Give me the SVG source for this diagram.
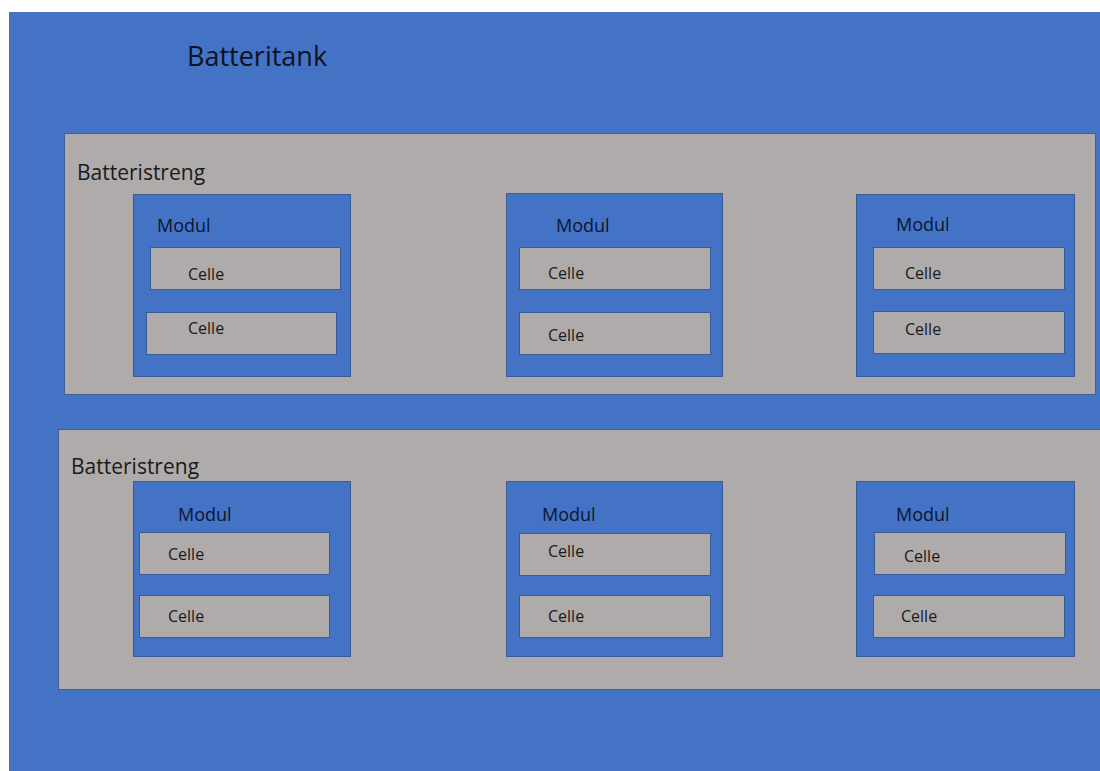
<svg xmlns="http://www.w3.org/2000/svg" width="1100" height="771" viewBox="0 0 1100 771">
<style>
.tank{fill:#4472C4;}
.str{fill:#AFABAB;stroke:#3D5F94;stroke-width:1;}
.mod{fill:#4472C4;stroke:#3A5C96;stroke-width:1;}
.cell{fill:#AFABAB;stroke:#3A5C96;stroke-width:1;}
text{font-family:"Open Sans","Liberation Sans",sans-serif;}
.t1{font-size:27px;fill:#0b1222;}
.t2{font-size:21px;fill:#1a1a1a;}
.t3{font-size:18px;fill:#0a1630;}
.t4{font-size:16px;fill:#1a1a1a;}
</style>
<rect width="1100" height="771" fill="#ffffff"/>
<g id="batteritank">
<rect class="tank" x="9" y="12" width="1091" height="759"/>
<text class="t1" x="187" y="66">Batteritank</text>
</g>
<g id="streng1">
<rect class="str" x="64.5" y="133.5" width="1031" height="261"/>
<text class="t2" x="77" y="180">Batteristreng</text>
</g>
<g id="streng2">
<rect class="str" x="58.5" y="429.5" width="1045" height="260"/>
<text class="t2" x="71" y="474">Batteristreng</text>
</g>
<g id="modul1">
<rect class="mod" x="133.5" y="194.5" width="217" height="182"/>
<text class="t3" x="157" y="232">Modul</text>
<rect class="cell" x="150.5" y="247.5" width="190" height="42"/>
<text class="t4" x="188" y="280">Celle</text>
<rect class="cell" x="146.5" y="312.5" width="190" height="42"/>
<text class="t4" x="188" y="334">Celle</text>
</g>
<g id="modul2">
<rect class="mod" x="506.5" y="193.5" width="216" height="183"/>
<text class="t3" x="556" y="232">Modul</text>
<rect class="cell" x="519.5" y="247.5" width="191" height="42"/>
<text class="t4" x="548" y="279">Celle</text>
<rect class="cell" x="519.5" y="312.5" width="191" height="42"/>
<text class="t4" x="548" y="341">Celle</text>
</g>
<g id="modul3">
<rect class="mod" x="856.5" y="194.5" width="218" height="182"/>
<text class="t3" x="896" y="231">Modul</text>
<rect class="cell" x="873.5" y="247.5" width="191" height="42"/>
<text class="t4" x="905" y="279">Celle</text>
<rect class="cell" x="873.5" y="311.5" width="191" height="42"/>
<text class="t4" x="905" y="335">Celle</text>
</g>
<g id="modul4">
<rect class="mod" x="133.5" y="481.5" width="217" height="175"/>
<text class="t3" x="178" y="521">Modul</text>
<rect class="cell" x="139.5" y="532.5" width="190" height="42"/>
<text class="t4" x="168" y="560">Celle</text>
<rect class="cell" x="139.5" y="595.5" width="190" height="42"/>
<text class="t4" x="168" y="622">Celle</text>
</g>
<g id="modul5">
<rect class="mod" x="506.5" y="481.5" width="216" height="175"/>
<text class="t3" x="542" y="521">Modul</text>
<rect class="cell" x="519.5" y="533.5" width="191" height="42"/>
<text class="t4" x="548" y="557">Celle</text>
<rect class="cell" x="519.5" y="595.5" width="191" height="42"/>
<text class="t4" x="548" y="622">Celle</text>
</g>
<g id="modul6">
<rect class="mod" x="856.5" y="481.5" width="218" height="175"/>
<text class="t3" x="896" y="521">Modul</text>
<rect class="cell" x="874.5" y="532.5" width="191" height="42"/>
<text class="t4" x="904" y="562">Celle</text>
<rect class="cell" x="873.5" y="595.5" width="191" height="42"/>
<text class="t4" x="901" y="622">Celle</text>
</g>
<g id="connectors"></g>
</svg>
